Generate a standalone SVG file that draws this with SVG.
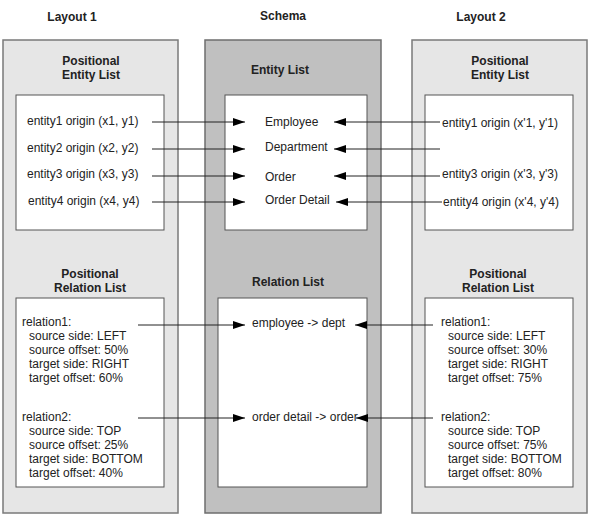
<svg xmlns="http://www.w3.org/2000/svg" width="591" height="516" viewBox="0 0 591 516">
<style>
text{font-family:"Liberation Sans",Arial,sans-serif;font-size:12px;fill:#222}
.b{font-weight:bold}
.m{text-anchor:middle}
.panel{fill:#e6e6e6;stroke:#7a7a7a;stroke-width:1.5}
.schema{fill:#c0c0c0;stroke:#6e6e6e;stroke-width:1.5}
.box{fill:#fff;stroke:#555;stroke-width:1}
.c{stroke:#222;stroke-width:1;fill:none}
</style>
<defs>
<marker id="ah" markerUnits="userSpaceOnUse" markerWidth="12" markerHeight="8" refX="12" refY="4" orient="auto">
<path d="M0,0 L12,4 L0,8 Z" fill="#000"/>
</marker>
</defs>
<rect width="591" height="516" fill="#fff"/>

<g id="titles">
<text class="b m" x="72" y="21">Layout 1</text>
<text class="b m" x="283" y="20">Schema</text>
<text class="b m" x="481" y="21">Layout 2</text>
</g>

<g id="layout1">
<rect class="panel" x="3" y="40" width="175" height="473"/>
<text class="b m" x="91" y="65">Positional</text>
<text class="b m" x="91" y="79">Entity List</text>
<rect class="box" x="16" y="95" width="148" height="135"/>
<text class="b m" x="90" y="278">Positional</text>
<text class="b m" x="90" y="292">Relation List</text>
<rect class="box" x="16" y="298" width="148" height="189"/>
</g>
<g id="l1-entity1"><text x="27" y="124.5">entity1 origin (x1, y1)</text></g>
<g id="l1-entity2"><text x="27" y="152">entity2 origin (x2, y2)</text></g>
<g id="l1-entity3"><text x="27" y="178">entity3 origin (x3, y3)</text></g>
<g id="l1-entity4"><text x="28" y="205">entity4 origin (x4, y4)</text></g>
<g id="l1-relation1">
<text x="22" y="326">relation1:</text>
<text x="29" y="340">source side: LEFT</text>
<text x="29" y="354">source offset: 50%</text>
<text x="29" y="368">target side: RIGHT</text>
<text x="29" y="382">target offset: 60%</text>
</g>
<g id="l1-relation2">
<text x="22" y="421">relation2:</text>
<text x="29" y="435">source side: TOP</text>
<text x="29" y="449">source offset: 25%</text>
<text x="29" y="463">target side: BOTTOM</text>
<text x="29" y="477">target offset: 40%</text>
</g>

<g id="schema">
<rect class="schema" x="205" y="40" width="176" height="473"/>
<text class="b m" x="280" y="74">Entity List</text>
<rect class="box" x="225" y="95" width="142" height="135"/>
<text class="b m" x="288" y="285.5">Relation List</text>
<rect class="box" x="218" y="298" width="149" height="189"/>
</g>
<g id="s-employee"><text x="265" y="126">Employee</text></g>
<g id="s-department"><text x="265" y="151">Department</text></g>
<g id="s-order"><text x="265" y="181">Order</text></g>
<g id="s-orderdetail"><text x="265" y="204">Order Detail</text></g>
<g id="s-rel1"><text x="252" y="327">employee -&gt; dept</text></g>
<g id="s-rel2"><text x="252" y="421">order detail -&gt; order</text></g>

<g id="layout2">
<rect class="panel" x="412" y="40" width="175" height="473"/>
<text class="b m" x="500" y="65">Positional</text>
<text class="b m" x="500" y="79">Entity List</text>
<rect class="box" x="425" y="95" width="148" height="135"/>
<text class="b m" x="498" y="278">Positional</text>
<text class="b m" x="498" y="292">Relation List</text>
<rect class="box" x="425" y="298" width="148" height="189"/>
</g>
<g id="l2-entity1"><text x="442" y="127">entity1 origin (x'1, y'1)</text></g>
<g id="l2-entity3"><text x="442" y="178">entity3 origin (x'3, y'3)</text></g>
<g id="l2-entity4"><text x="443" y="206">entity4 origin (x'4, y'4)</text></g>
<g id="l2-relation1">
<text x="441" y="326">relation1:</text>
<text x="448" y="340">source side: LEFT</text>
<text x="448" y="354">source offset: 30%</text>
<text x="448" y="368">target side: RIGHT</text>
<text x="448" y="382">target offset: 75%</text>
</g>
<g id="l2-relation2">
<text x="441" y="421">relation2:</text>
<text x="448" y="435">source side: TOP</text>
<text x="448" y="449">source offset: 75%</text>
<text x="448" y="463">target side: BOTTOM</text>
<text x="448" y="477">target offset: 80%</text>
</g>

<g id="connectors">
<line class="c" x1="152" y1="122" x2="245" y2="122" marker-end="url(#ah)"/>
<line class="c" x1="152" y1="149" x2="245" y2="149" marker-end="url(#ah)"/>
<line class="c" x1="152" y1="176" x2="245" y2="176" marker-end="url(#ah)"/>
<line class="c" x1="152" y1="202" x2="245" y2="202" marker-end="url(#ah)"/>
<line class="c" x1="440" y1="122" x2="334" y2="122" marker-end="url(#ah)"/>
<line class="c" x1="440" y1="149" x2="334" y2="149" marker-end="url(#ah)"/>
<line class="c" x1="440" y1="176" x2="334" y2="176" marker-end="url(#ah)"/>
<line class="c" x1="442" y1="202" x2="336" y2="202" marker-end="url(#ah)"/>
<line class="c" x1="138" y1="325" x2="245" y2="325" marker-end="url(#ah)"/>
<line class="c" x1="138" y1="418" x2="245" y2="418" marker-end="url(#ah)"/>
<line class="c" x1="433" y1="325" x2="355" y2="325" marker-end="url(#ah)"/>
<line class="c" x1="433" y1="418" x2="356" y2="418" marker-end="url(#ah)"/>
</g>
</svg>
